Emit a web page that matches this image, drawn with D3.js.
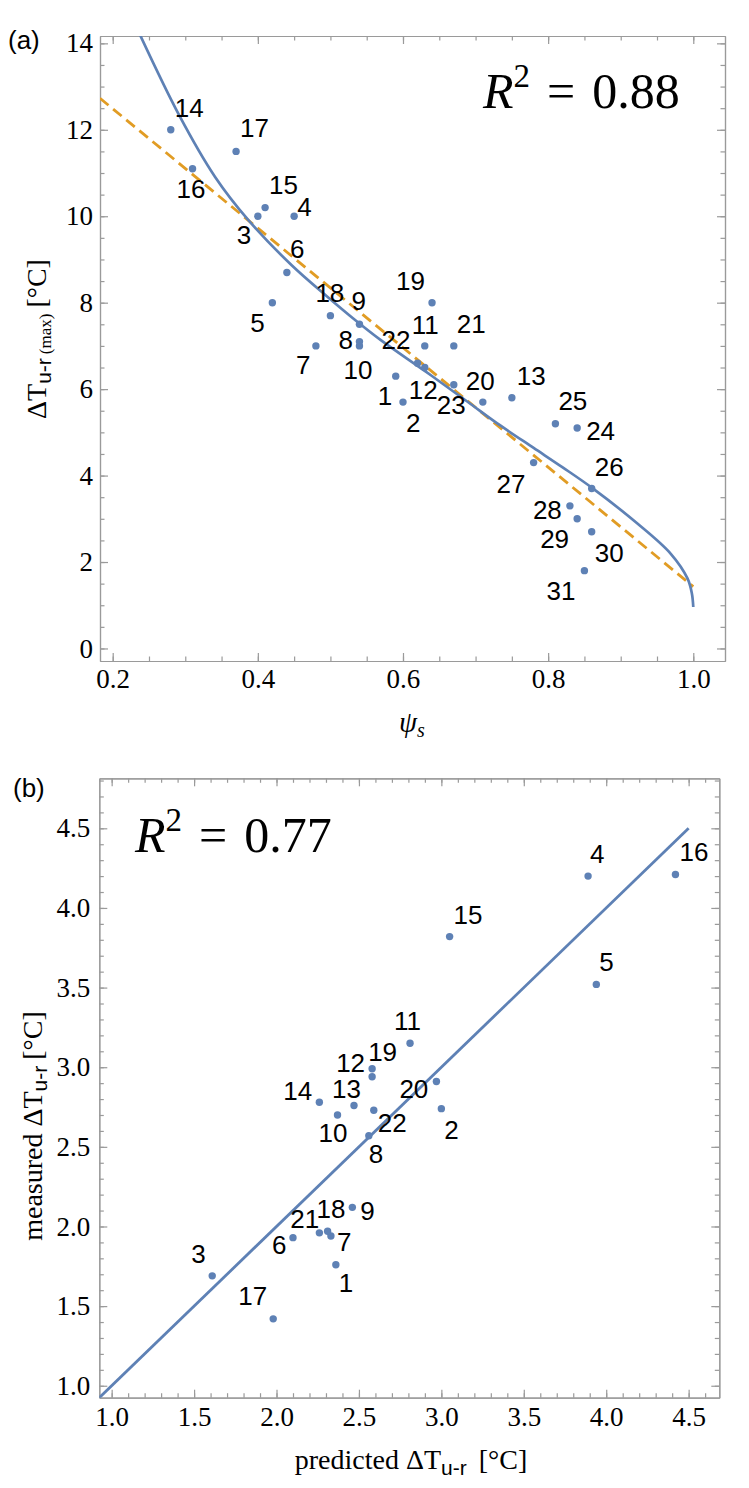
<!DOCTYPE html>
<html lang="en">
<head>
<meta charset="UTF-8">
<title>Max temperature difference vs psi_s</title>
<script src="https://d3js.org/d3.v7.min.js"></script>
<style>
  body { margin: 0; background: #fff; }
  .tick text { font-family: 'Liberation Serif', 'Times New Roman', serif; font-size: 27px; fill: #000; }
  .domain, .tick line { stroke: #9a9a9a; stroke-width: 1.2; }
  .pt-label { font-family: 'Liberation Sans', Arial, sans-serif; font-size: 26px; fill: #000; }
  .panel-tag { font-family: 'Liberation Sans', Arial, sans-serif; font-size: 26px; }
  .serif { font-family: 'Liberation Serif', 'Times New Roman', serif; }
  .sans { font-family: 'Liberation Sans', Arial, sans-serif; }
</style>
</head>
<body>
<svg id="chart" width="749" height="1488"></svg>
<script>
// ---- panel (a): max dT_u-r vs psi_s ----
const idsA   = [1,2,3,4,5,6,7,8,9,10,11,12,13,14,15,16,17,18,19,20,21,22,23,24,25,26,27,28,29,30,31];
const psiA   = [0.59,0.60,0.40,0.45,0.42,0.44,0.48,0.54,0.54,0.54,0.63,0.63,0.75,0.28,0.41,0.31,
                0.37,0.50,0.64,0.71,0.67,0.62,0.67,0.84,0.81,0.86,0.78,0.83,0.84,0.86,0.85];
const dTmaxA = [6.3,5.7,10.0,10.0,8.0,8.7,7.0,7.1,7.5,7.0,7.0,6.5,5.8,12.0,10.2,11.1,
                11.5,7.7,8.0,5.7,7.0,6.6,6.1,5.1,5.2,3.7,4.3,3.3,3.0,2.7,1.8];

// model curve (solid)
const fitPsi = [0.2367,0.2915,0.3411,0.387,0.447,0.495,0.534,0.569,0.631,0.688,0.734,0.780,0.820,0.861,0.923,0.969,0.992,0.998,1.0];
const fitDT  = [14.23,12.34,10.91,9.91,8.86,8.15,7.60,7.14,6.41,5.72,5.16,4.64,4.19,3.71,2.89,2.19,1.62,1.28,0.96];
// linear fit (dashed)
const linPsi = [0.1825, 1.0];
const linDT  = [12.73, 1.43];

const xTicksA = [0.2, 0.4, 0.6, 0.8, 1.0];
const yTicksA = [0, 2, 4, 6, 8, 10, 12, 14];

// ---- panel (b): measured vs predicted ----
const idsB  = [1,2,3,4,5,6,7,8,9,10,11,12,13,14,15,16,17,18,19,20,21,22];
const predB = [2.36,3.00,1.61,3.89,3.94,2.10,2.33,2.56,2.46,2.37,2.81,2.58,2.47,2.26,3.05,4.42,1.98,2.31,2.58,2.97,2.26,2.59];
const measB = [1.76,2.74,1.69,4.20,3.52,1.93,1.94,2.57,2.12,2.70,3.15,2.94,2.76,2.78,3.82,4.21,1.42,1.97,2.99,2.91,1.96,2.73];
const oneToOne = [0.9, 4.5];

const xTicksB = [1.0, 1.5, 2.0, 2.5, 3.0, 3.5, 4.0, 4.5];
const yTicksB = [1.0, 1.5, 2.0, 2.5, 3.0, 3.5, 4.0, 4.5];

// label placement (px offset of label start/baseline from the dot)
const labelOffA = {1:[-18,29],2:[3,30],3:[-21,28],4:[3,0],5:[-22,29],6:[3,-14],7:[-20,28],8:[-21,7],
  9:[-8,-14],10:[-16,33],11:[-13,-12],12:[-16,31],13:[5,-13],14:[4,-13],15:[4,-14],16:[-16,29],
  17:[4,-14],18:[-15,-14],19:[-36,-13],20:[-17,-12],21:[3,-13],22:[-36,-14],23:[-17,29],24:[9,12],
  25:[3,-14],26:[3,-13],27:[-37,30],28:[-37,13],29:[-37,29],30:[3,30],31:[-38,29]};
const labelOffB = {1:[3,27],2:[3,30],3:[-21,-13],4:[2,-13],5:[3,-13],6:[-21,16],7:[6,15],8:[0,27],
  9:[8,13],10:[-19,27],11:[-16,-13],12:[-36,-5],13:[-22,-7],14:[-36,-2],15:[4,-13],16:[4,-13],
  17:[-35,-14],18:[-11,-13],19:[-4,-8],20:[-37,16],21:[-29,-5],22:[4,22]};

const blue = "#5e81b5", orange = "#e19c24";
const svg = d3.select("#chart");

function drawFrame(x, y, xMajor, xMinor, yMajor, yMinor, xFmt, yFmt, xPad, yPad) {
  const [l, r] = x.range(), [b, t] = y.range();
  const g = svg.append("g");
  const none = () => "";
  const add = (axis, ticks, size, fmt, pad, tr) =>
    g.append("g").attr("transform", tr)
      .call(axis.tickValues(ticks).tickSizeInner(-size).tickSizeOuter(0).tickPadding(pad).tickFormat(fmt));
  add(d3.axisBottom(x), xMinor, 4.5, none, 0, `translate(0,${b})`);
  add(d3.axisBottom(x), xMajor, 8, xFmt, xPad, `translate(0,${b})`);
  add(d3.axisTop(x), xMinor, 4.5, none, 0, `translate(0,${t})`);
  add(d3.axisTop(x), xMajor, 8, none, 0, `translate(0,${t})`);
  add(d3.axisLeft(y), yMinor, 4.5, none, 0, `translate(${l},0)`);
  add(d3.axisLeft(y), yMajor, 8, yFmt, yPad, `translate(${l},0)`);
  add(d3.axisRight(y), yMinor, 4.5, none, 0, `translate(${r},0)`);
  add(d3.axisRight(y), yMajor, 8, none, 0, `translate(${r},0)`);
  g.selectAll(".tick text").attr("fill", "#000");
}

function clipFor(id, x, y) {
  const [l, r] = x.range(), [b, t] = y.range();
  svg.append("clipPath").attr("id", id).append("rect")
    .attr("x", l).attr("y", t).attr("width", r - l).attr("height", b - t);
  return `url(#${id})`;
}

function drawPoints(ids, xs, ys, offs, x, y) {
  const g = svg.append("g");
  g.selectAll("circle").data(ids).join("circle")
    .attr("cx", (d, i) => x(xs[i])).attr("cy", (d, i) => y(ys[i]))
    .attr("r", 3.7).attr("fill", blue);
  g.selectAll("text").data(ids).join("text").attr("class", "pt-label")
    .attr("x", (d, i) => x(xs[i]) + offs[d][0])
    .attr("y", (d, i) => y(ys[i]) + offs[d][1])
    .text(d => d);
}

function r2Text(x0, y0, value) {
  const t = svg.append("text").attr("class", "serif").attr("x", x0).attr("y", y0).attr("font-size", 50);
  t.append("tspan").attr("font-style", "italic").text("R");
  t.append("tspan").attr("font-size", 33).attr("dy", -21).text("2");
  t.append("tspan").attr("dx", 17).attr("dy", 21).text("=");
  t.append("tspan").attr("dx", 17).text(value);
}

// ================= (a) =================
const xA = d3.scaleLinear().domain([0.1825, 1.0437]).range([100, 725]);
const yA = d3.scaleLinear().domain([-0.29, 14.17]).range([661, 36]);

drawFrame(xA, yA, xTicksA, d3.range(0.2, 1.01, 0.05), yTicksA, d3.range(0, 14.01, 0.5),
  d3.format(".1f"), d3.format("d"), 8, 7);

const clipA = clipFor("clipA", xA, yA);
svg.append("path").attr("clip-path", clipA)
  .attr("d", d3.line().x(d => xA(d[0])).y(d => yA(d[1]))(d3.zip(linPsi, linDT)))
  .attr("fill", "none").attr("stroke", orange).attr("stroke-width", 2.8)
  .attr("stroke-dasharray", "11,6");
svg.append("path").attr("clip-path", clipA)
  .attr("d", d3.line().curve(d3.curveCatmullRom.alpha(0.5))
    .x(d => xA(d[0])).y(d => yA(d[1]))(d3.zip(fitPsi, fitDT)))
  .attr("fill", "none").attr("stroke", blue).attr("stroke-width", 2.7);

drawPoints(idsA, psiA, dTmaxA, labelOffA, xA, yA);

svg.append("text").attr("class", "panel-tag").attr("x", 8).attr("y", 49).text("(a)");
r2Text(483, 108, "0.88");

// axis titles (a)
const ylabA = svg.append("text").attr("transform", "translate(46,339) rotate(-90)")
  .attr("text-anchor", "middle").attr("class", "serif").attr("font-size", 28);
ylabA.append("tspan").text("ΔT");
ylabA.append("tspan").attr("class", "sans").attr("font-size", 21).attr("dy", 5).text("u-r");
ylabA.append("tspan").attr("font-size", 17).attr("dx", 4).text("(max)");
ylabA.append("tspan").attr("dx", 6).attr("dy", -5).text("[°C]");

const xlabA = svg.append("text").attr("x", 412).attr("y", 732)
  .attr("text-anchor", "middle").attr("class", "serif").attr("font-size", 29).attr("font-style", "italic");
xlabA.append("tspan").text("ψ");
xlabA.append("tspan").attr("font-size", 20).attr("dy", 5).text("s");

// ================= (b) =================
const xB = d3.scaleLinear().domain([0.925, 4.686]).range([99.3, 719.3]);
const yB = d3.scaleLinear().domain([0.925, 4.814]).range([1397.7, 778.3]);

drawFrame(xB, yB, xTicksB, d3.range(1.0, 4.65, 0.1), yTicksB, d3.range(1.0, 4.81, 0.1),
  d3.format(".1f"), d3.format(".1f"), 9, 9);

const clipB = clipFor("clipB", xB, yB);
svg.append("path").attr("clip-path", clipB)
  .attr("d", d3.line().x(d => xB(d)).y(d => yB(d))(oneToOne))
  .attr("fill", "none").attr("stroke", blue).attr("stroke-width", 2.8);

drawPoints(idsB, predB, measB, labelOffB, xB, yB);

svg.append("text").attr("class", "panel-tag").attr("x", 13).attr("y", 797).text("(b)");
r2Text(135, 852, "0.77");

const ylabB = svg.append("text").attr("transform", "translate(42,1126) rotate(-90)")
  .attr("text-anchor", "middle").attr("class", "serif").attr("font-size", 28);
ylabB.append("tspan").text("measured ΔT");
ylabB.append("tspan").attr("class", "sans").attr("font-size", 21).attr("dy", 5).text("u-r");
ylabB.append("tspan").attr("dx", 6).attr("dy", -5).text("[°C]");

const xlabB = svg.append("text").attr("x", 411).attr("y", 1469)
  .attr("text-anchor", "middle").attr("class", "serif").attr("font-size", 28);
xlabB.append("tspan").text("predicted ΔT");
xlabB.append("tspan").attr("class", "sans").attr("font-size", 21).attr("dy", 6).text("u-r");
xlabB.append("tspan").attr("dx", 12).attr("dy", -6).text("[°C]");
</script>
</body>
</html>
